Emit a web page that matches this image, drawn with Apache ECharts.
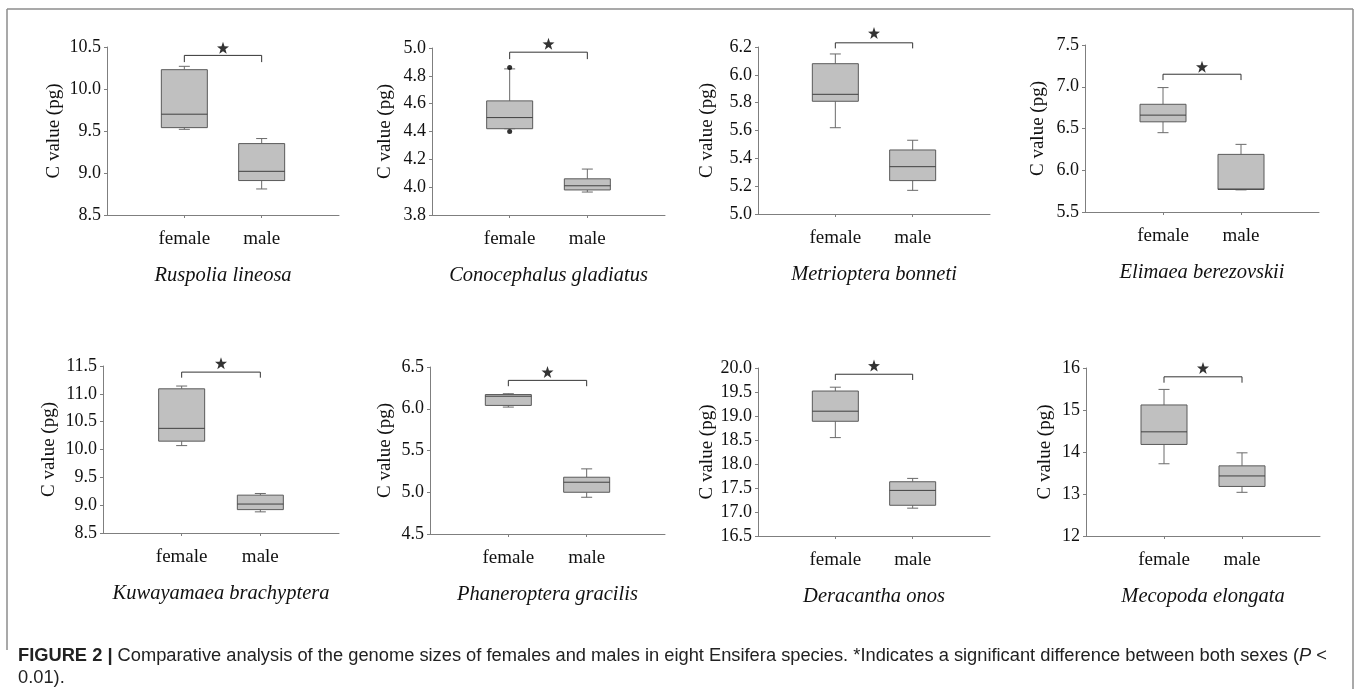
<!DOCTYPE html>
<html><head><meta charset="utf-8">
<script src="https://cdn.jsdelivr.net/npm/echarts@6/dist/echarts.min.js"></script>
<style>html,body{margin:0;padding:0;background:#fff}#c{width:1358px;height:689px}</style>
</head><body><div id="c"></div>
<script>
// ---- data ----
const categories = ['female', 'male'];
const species = ['Ruspolia lineosa', 'Conocephalus gladiatus', 'Metrioptera bonneti', 'Elimaea berezovskii',
  'Kuwayamaea brachyptera', 'Phaneroptera gracilis', 'Deracantha onos', 'Mecopoda elongata'];
// [min, Q1, median, Q3, max]
const femaleBoxes = [
  [9.52, 9.54, 9.70, 10.23, 10.27],
  [4.42, 4.42, 4.50, 4.62, 4.85],
  [5.62, 5.81, 5.86, 6.08, 6.15],
  [6.45, 6.58, 6.66, 6.79, 6.99],
  [10.07, 10.15, 10.38, 11.09, 11.14],
  [6.02, 6.04, 6.15, 6.17, 6.18],
  [18.55, 18.89, 19.10, 19.52, 19.60],
  [13.72, 14.18, 14.48, 15.12, 15.49]
];
const maleBoxes = [
  [8.81, 8.91, 9.02, 9.35, 9.41],
  [3.965, 3.98, 4.01, 4.06, 4.13],
  [5.17, 5.24, 5.34, 5.46, 5.53],
  [5.765, 5.77, 5.775, 6.19, 6.31],
  [8.88, 8.92, 9.02, 9.18, 9.21],
  [4.94, 5.00, 5.12, 5.18, 5.28],
  [17.08, 17.14, 17.45, 17.63, 17.70],
  [13.04, 13.18, 13.43, 13.67, 13.98]
];
// outlier points per panel: [category index, value]
const outliers = [[], [[0, 4.86], [0, 4.40]], [], [], [], [], [], []];
const yMin = [8.5, 3.8, 5.0, 5.5, 8.5, 4.5, 16.5, 12];
const yMax = [10.5, 5.0, 6.2, 7.5, 11.5, 6.5, 20.0, 16];
const yStep = [0.5, 0.2, 0.2, 0.5, 0.5, 0.5, 0.5, 1];
const yDecimals = [1, 1, 1, 1, 1, 1, 1, 0];
// significance bracket: bar level, end level, star level
const bracketTop = [10.40, 4.97, 6.23, 7.15, 11.39, 6.34, 19.87, 15.79];
const bracketEnd = [10.32, 4.92, 6.19, 7.08, 11.29, 6.27, 19.75, 15.65];
const starLevel = [10.49, 5.03, 6.30, 7.24, 11.55, 6.44, 20.05, 16.0];

// ---- layout (styles / positions) ----
const grids = [
  {left: 107, top: 47, width: 232, height: 168},
  {left: 432, top: 48, width: 233, height: 167},
  {left: 758, top: 47, width: 232, height: 167},
  {left: 1085, top: 45, width: 234, height: 167},
  {left: 103, top: 366, width: 236, height: 167},
  {left: 430, top: 367, width: 235, height: 167},
  {left: 758, top: 368, width: 232, height: 168},
  {left: 1086, top: 368, width: 234, height: 168}
];
const yNameGap = [43, 37, 41, 37, 44, 35, 41, 31];

const serif = 'Liberation Serif';
const axisGray = '#7f7f7f';
const starPath = 'path://M0,-10L2.35,-3.24L9.51,-3.09L3.8,1.24L5.88,8.09L0,4L-5.88,8.09L-3.8,1.24L-9.51,-3.09L-2.35,-3.24Z';

function renderBox(params, api) {
  const x = api.value(0);
  const p = [1, 2, 3, 4, 5].map(i => api.coord([x, api.value(i)]));
  const cx = p[0][0];
  const hw = 23, cw = 5.5;
  const yLo = p[0][1], q1 = p[1][1], med = p[2][1], q3 = p[3][1], yHi = p[4][1];
  const ws = {stroke: '#6a6a6a', lineWidth: 1};
  return {type: 'group', children: [
    {type: 'line', shape: {x1: cx, y1: q3, x2: cx, y2: yHi}, style: ws},
    {type: 'line', shape: {x1: cx - cw, y1: yHi, x2: cx + cw, y2: yHi}, style: ws},
    {type: 'line', shape: {x1: cx, y1: q1, x2: cx, y2: yLo}, style: ws},
    {type: 'line', shape: {x1: cx - cw, y1: yLo, x2: cx + cw, y2: yLo}, style: ws},
    {type: 'rect', shape: {x: cx - hw, y: q3, width: 2 * hw, height: q1 - q3},
      style: {fill: '#c0c0c0', stroke: '#5a5a5a', lineWidth: 1}},
    {type: 'line', shape: {x1: cx - hw, y1: med, x2: cx + hw, y2: med}, style: {stroke: '#404040', lineWidth: 1}}
  ]};
}

const capFont = 'Liberation Sans';
const capSize = 18.3;
const option = {
  animation: false,
  backgroundColor: '#fff',
  grid: [], xAxis: [], yAxis: [], series: [],
  graphic: [
    {type: 'line', shape: {x1: 7, y1: 9, x2: 1353, y2: 9}, style: {stroke: '#8c8c8c', lineWidth: 1.5}},
    {type: 'line', shape: {x1: 7, y1: 9, x2: 7, y2: 650}, style: {stroke: '#8c8c8c', lineWidth: 1.5}},
    {type: 'line', shape: {x1: 1353, y1: 9, x2: 1353, y2: 689}, style: {stroke: '#8c8c8c', lineWidth: 1.5}},
    {type: 'text', left: 18, top: 647, style: {
      text: '{b|FIGURE 2 |} Comparative analysis of the genome sizes of females and males in eight Ensifera species. *Indicates a significant difference between both sexes ({i|P} <',
      fontFamily: capFont, fontSize: capSize, fill: '#222',
      rich: {b: {fontWeight: 'bold', fontFamily: capFont, fontSize: capSize, fill: '#222'},
             i: {fontStyle: 'italic', fontFamily: capFont, fontSize: capSize, fill: '#222'}}
    }},
    {type: 'text', left: 18, top: 669, style: {text: '0.01).', fontFamily: capFont, fontSize: capSize, fill: '#222'}}
  ]
};

for (let k = 0; k < 8; k++) {
  option.grid.push(Object.assign({containLabel: false}, grids[k]));
  option.xAxis.push({
    type: 'value', gridIndex: k, min: 0, max: 3,
    name: species[k], nameLocation: 'middle', nameGap: 51,
    nameTextStyle: {fontFamily: serif, fontStyle: 'italic', fontSize: 20.5, color: '#111'},
    axisLine: {show: true, lineStyle: {color: axisGray, width: 1}},
    axisTick: {show: true, length: 3, customValues: [1, 2], lineStyle: {color: axisGray}},
    axisLabel: {show: true, customValues: [1, 2], margin: 15,
      formatter: v => categories[Math.round(v) - 1] || '',
      fontFamily: serif, fontSize: 19, color: '#111'},
    splitLine: {show: false}
  });
  option.yAxis.push({
    type: 'value', gridIndex: k, min: yMin[k], max: yMax[k], interval: yStep[k],
    name: 'C value (pg)', nameLocation: 'middle', nameGap: yNameGap[k],
    nameTextStyle: {fontFamily: serif, fontSize: 19, color: '#111'},
    axisLine: {show: true, lineStyle: {color: axisGray, width: 1}},
    axisTick: {show: true, length: 3, lineStyle: {color: axisGray}},
    axisLabel: {margin: 6, fontFamily: serif, fontSize: 18, color: '#111',
      formatter: v => Number(v).toFixed(yDecimals[k])},
    splitLine: {show: false}
  });
  option.series.push({
    type: 'custom', xAxisIndex: k, yAxisIndex: k, renderItem: renderBox, clip: false,
    encode: {x: 0, y: [1, 2, 3, 4, 5]},
    data: [[1].concat(femaleBoxes[k]), [2].concat(maleBoxes[k])]
  });
  if (outliers[k].length) {
    option.series.push({
      type: 'scatter', xAxisIndex: k, yAxisIndex: k, symbol: 'circle', symbolSize: 5,
      itemStyle: {color: '#000'}, clip: false,
      data: outliers[k].map(o => [o[0] + 1, o[1]])
    });
  }
  option.series.push({
    type: 'line', xAxisIndex: k, yAxisIndex: k, symbol: 'none', clip: false,
    lineStyle: {color: '#333', width: 1},
    data: [[1, bracketEnd[k]], [1, bracketTop[k]], [2, bracketTop[k]], [2, bracketEnd[k]]]
  });
  option.series.push({
    type: 'scatter', xAxisIndex: k, yAxisIndex: k, symbol: starPath, symbolSize: 12,
    itemStyle: {color: '#000'}, clip: false,
    data: [[1.5, starLevel[k]]]
  });
}

const chart = echarts.init(document.getElementById('c'), null, {renderer: 'canvas'});
chart.setOption(option);
</script></body></html>
